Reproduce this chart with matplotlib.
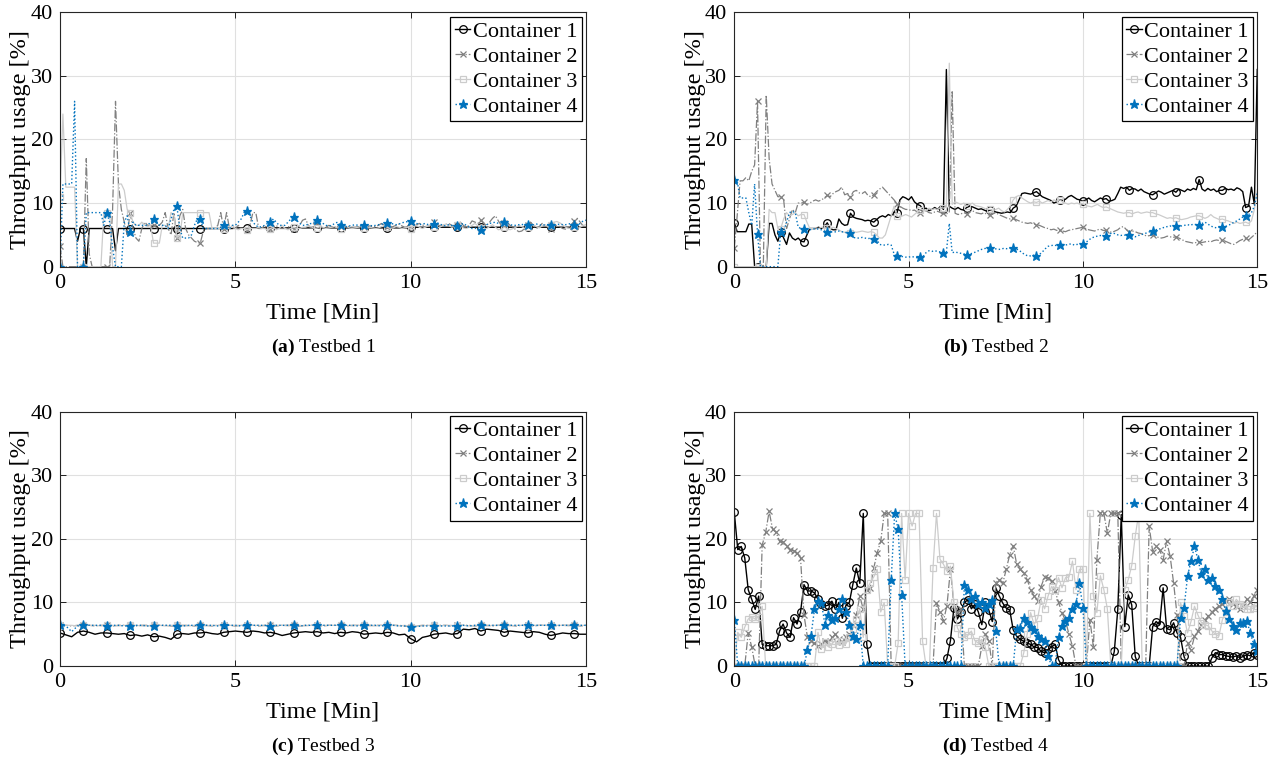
import numpy as np
import matplotlib
matplotlib.use('Agg')
from matplotlib import pyplot as plt

plt.rcParams['font.family'] = 'Liberation Serif'
plt.rcParams['mathtext.fontset'] = 'custom'
plt.rcParams['mathtext.rm'] = 'Liberation Serif'
plt.rcParams['mathtext.bf'] = 'Liberation Serif:bold'

names = ['Container 1', 'Container 2', 'Container 3', 'Container 4']
captions = [('a', 'Testbed 1'), ('b', 'Testbed 2'), ('c', 'Testbed 3'), ('d', 'Testbed 4')]

# testbed 1 and 2: one value every 5 s (12 per minute, one row per minute)
tb1_c1 = [
    6.0, 6.0, 6.0, 6.0, 6.0, 6.0, 4.0, 6.0, 6.0, 0.0, 6.0, 6.0,
    6.0, 6.0, 6.0, 6.0, 6.0, 6.0, 6.0, 2.5, 6.0, 6.0, 6.0, 6.0,
    6.0, 6.0, 6.0, 6.0, 6.0, 6.0, 6.0, 6.0, 6.0, 6.0, 6.0, 6.0,
    6.0, 6.0, 6.0, 6.0, 6.0, 6.0, 6.0, 6.0, 6.0, 6.0, 6.0, 6.0,
    6.0, 6.0, 6.0, 6.0, 6.0, 6.0, 6.0, 6.0, 6.0, 6.0, 6.0, 6.0,
    6.1, 6.1, 6.1, 6.1, 6.1, 6.1, 6.1, 6.1, 6.1, 6.1, 6.1, 6.1,
    6.1, 6.1, 6.1, 6.1, 6.1, 6.1, 6.1, 6.1, 6.1, 6.1, 6.1, 6.1,
    6.1, 6.1, 6.1, 6.1, 6.1, 6.1, 6.1, 6.1, 6.1, 6.1, 6.1, 6.1,
    6.1, 6.1, 6.1, 6.1, 6.1, 6.1, 6.1, 6.1, 6.1, 6.1, 6.1, 6.1,
    6.1, 6.1, 6.1, 6.1, 6.1, 6.1, 6.1, 6.1, 6.1, 6.1, 6.1, 6.1,
    6.2, 6.2, 6.2, 6.2, 6.2, 6.2, 6.2, 6.2, 6.2, 6.2, 6.2, 6.2,
    6.2, 6.2, 6.2, 6.2, 6.2, 6.2, 6.2, 6.2, 6.2, 6.2, 6.2, 6.2,
    6.2, 6.2, 6.2, 6.2, 6.2, 6.2, 6.2, 6.2, 6.2, 6.2, 6.2, 6.2,
    6.2, 6.2, 6.2, 6.2, 6.2, 6.2, 6.2, 6.2, 6.2, 6.2, 6.2, 6.2,
    6.2, 6.2, 6.2, 6.2, 6.2, 6.2, 6.2, 6.2, 6.2, 6.2, 6.2, 6.2,
    6.2]
tb1_c2 = [
    3.2, 0.0, 0.0, 0.0, 0.0, 0.0, 0.0, 0.0, 0.0, 17.0, 2.0, 0.0,
    0.0, 0.0, 0.0, 0.0, 0.0, 0.0, 9.0, 26.0, 13.0, 9.0, 7.0, 5.0,
    8.5, 6.0, 4.5, 4.0, 6.0, 7.0, 6.5, 6.5, 6.5, 6.5, 6.5, 7.0,
    8.5, 6.0, 5.0, 8.5, 4.5, 8.0, 9.0, 6.0, 5.0, 4.5, 4.0, 3.8,
    3.7, 5.5, 6.0, 6.0, 6.0, 6.0, 6.5, 8.5, 6.0, 8.5, 6.0, 6.0,
    6.0, 6.5, 6.0, 6.0, 5.8, 6.5, 8.5, 8.5, 6.0, 6.0, 6.5, 6.0,
    6.0, 6.3, 6.5, 6.0, 6.0, 6.0, 6.2, 6.5, 6.0, 6.0, 6.5, 7.3,
    7.5, 6.5, 6.0, 7.0, 6.8, 6.5, 6.0, 6.2, 6.5, 6.3, 6.2, 6.2,
    6.2, 6.3, 6.4, 6.3, 6.2, 6.2, 6.3, 6.3, 6.2, 6.3, 6.4, 6.3,
    6.3, 6.5, 6.8, 6.5, 6.3, 6.2, 6.3, 6.5, 6.7, 6.4, 6.2, 6.3,
    6.2, 6.3, 6.6, 6.8, 6.6, 6.3, 6.4, 6.6, 7.0, 6.7, 6.4, 6.5,
    6.6, 6.8, 6.5, 6.3, 6.6, 7.0, 6.5, 6.2, 6.5, 7.2, 7.0, 6.8,
    7.3, 6.8, 6.5, 7.0, 7.6, 8.0, 7.2, 6.5, 6.8, 7.0, 6.5, 6.2,
    5.8, 5.5, 5.6, 6.0, 6.6, 7.0, 6.5, 6.0, 6.3, 6.8, 6.5, 6.2,
    6.0, 6.3, 6.5, 6.3, 6.0, 5.9, 6.2, 6.6, 7.2, 7.6, 7.0, 6.4,
    6.5]
tb1_c3 = [
    11.0, 24.0, 12.5, 12.5, 12.5, 12.5, 0.0, 0.0, 0.0, 0.0, 0.0, 0.0,
    0.0, 0.0, 0.0, 8.5, 8.5, 8.5, 0.0, 0.0, 13.0, 13.0, 12.0, 9.0,
    8.5, 7.0, 6.5, 6.5, 7.0, 6.5, 6.3, 6.5, 3.7, 3.7, 3.7, 6.5,
    6.5, 6.0, 8.5, 8.0, 4.5, 4.5, 8.5, 8.5, 8.5, 8.5, 8.5, 8.5,
    8.5, 8.5, 8.5, 8.5, 6.0, 6.0, 6.0, 6.0, 6.0, 6.0, 6.0, 6.5,
    6.0, 5.8, 6.0, 6.0, 5.8, 6.0, 6.0, 6.0, 6.2, 6.0, 6.0, 5.8,
    6.0, 6.2, 5.8, 6.0, 6.5, 6.0, 5.8, 6.0, 6.2, 6.0, 6.0, 6.2,
    6.2, 6.4, 6.3, 6.0, 6.1, 6.3, 6.2, 6.0, 6.1, 6.2, 6.3, 6.1,
    6.0, 6.2, 6.3, 6.1, 6.0, 6.1, 6.2, 6.3, 6.1, 6.0, 6.2, 6.1,
    6.0, 6.1, 6.3, 6.5, 6.2, 6.0, 6.1, 6.3, 6.2, 6.0, 6.1, 6.2,
    6.0, 6.3, 6.5, 6.2, 6.0, 6.2, 6.4, 6.6, 6.3, 6.1, 6.2, 6.5,
    6.7, 6.5, 6.2, 6.3, 6.6, 6.4, 6.1, 6.0, 6.2, 6.5, 6.8, 6.4,
    6.1, 5.9, 6.0, 6.3, 6.6, 6.2, 5.8, 5.9, 6.2, 6.0, 5.8, 6.0,
    6.2, 6.5, 6.3, 6.0, 6.2, 6.5, 6.6, 6.3, 6.1, 6.4, 6.6, 6.3,
    6.5, 7.0, 7.1, 6.9, 6.6, 6.2, 6.0, 6.1, 6.3, 6.0, 6.2, 6.5,
    6.6]
tb1_c4 = [
    0.0, 13.0, 13.0, 13.0, 13.0, 26.0, 0.0, 0.0, 0.0, 8.5, 8.5, 8.5,
    8.5, 8.5, 8.5, 6.5, 8.5, 7.0, 3.0, 0.0, 0.0, 0.0, 7.0, 8.0,
    5.5, 7.0, 6.5, 6.5, 6.5, 6.5, 6.5, 7.0, 7.5, 7.0, 6.5, 6.5,
    6.5, 6.0, 7.5, 9.0, 9.5, 6.0, 4.5, 4.5, 4.5, 5.0, 6.5, 7.5,
    7.5, 6.0, 6.0, 6.0, 6.0, 6.0, 6.0, 6.2, 6.5, 6.2, 6.0, 6.5,
    6.5, 7.0, 7.5, 8.5, 8.8, 8.0, 7.0, 6.5, 6.2, 6.3, 6.5, 6.8,
    7.0, 7.5, 7.0, 6.5, 6.5, 6.5, 7.0, 7.5, 7.8, 7.3, 6.8, 6.5,
    6.5, 6.7, 6.8, 7.0, 7.3, 7.2, 6.8, 6.5, 6.4, 6.5, 6.8, 7.0,
    6.5, 6.4, 6.3, 6.4, 6.5, 6.6, 6.5, 6.4, 6.5, 6.6, 6.5, 6.4,
    6.5, 6.6, 6.7, 6.6, 6.8, 6.9, 6.7, 6.6, 6.7, 6.9, 7.0, 7.1,
    7.2, 7.0, 6.8, 6.6, 6.7, 6.8, 6.6, 6.5, 6.7, 6.9, 6.7, 6.5,
    6.4, 6.6, 6.5, 6.4, 6.4, 6.6, 6.8, 6.5, 6.2, 6.0, 6.0, 6.2,
    5.8, 6.2, 6.6, 6.8, 6.9, 7.0, 6.8, 6.9, 7.0, 6.8, 6.6, 6.5,
    6.5, 6.6, 6.6, 6.7, 6.6, 6.5, 6.6, 6.7, 6.6, 6.5, 6.6, 6.6,
    6.6, 6.5, 6.6, 6.7, 6.6, 6.6, 6.7, 6.8, 6.6, 6.5, 6.8, 7.2,
    7.3]

tb2_c1 = [
    6.9, 5.5, 5.5, 5.5, 5.5, 6.7, 6.7, 0.0, 0.0, 0.0, 0.0, 0.0,
    6.8, 6.8, 5.0, 4.0, 5.5, 4.5, 3.5, 5.3, 4.5, 4.2, 4.5, 4.0,
    3.9, 5.0, 6.0, 6.0, 6.0, 6.2, 6.0, 6.3, 6.9, 6.0, 5.8, 5.8,
    7.5, 6.8, 6.5, 6.6, 8.4, 7.8, 7.6, 7.5, 7.4, 7.2, 7.3, 7.2,
    7.0, 7.4, 7.8, 8.0, 7.8, 8.2, 8.0, 8.5, 8.4, 10.5, 11.0, 10.8,
    10.5, 11.0, 10.2, 9.8, 9.6, 9.0, 9.2, 8.8, 9.0, 9.3, 9.0, 9.5,
    9.0, 31.0, 9.5, 9.2, 9.0, 9.3, 9.0, 8.9, 9.3, 9.5, 9.4, 9.2,
    9.0, 9.1, 8.9, 8.7, 8.9, 8.8, 8.6, 8.5, 8.4, 8.5, 8.6, 8.5,
    9.2, 9.5, 10.5, 11.5, 11.6, 11.5, 11.4, 11.6, 11.8, 11.4, 11.0, 10.8,
    10.6, 10.4, 10.0, 10.2, 10.5, 10.4, 10.6, 11.0, 11.2, 10.9, 10.6, 10.5,
    10.3, 10.5, 10.8, 10.4, 10.2, 10.5, 10.8, 10.6, 10.7, 10.3, 10.4, 10.6,
    11.5, 12.5, 12.3, 12.5, 12.0, 12.3, 12.2, 11.9, 12.2, 11.8, 11.6, 11.4,
    11.3, 11.6, 11.9, 11.7, 11.4, 11.6, 11.8, 12.0, 11.7, 12.2, 12.0, 11.8,
    12.2, 12.0, 12.3, 12.1, 13.7, 12.2, 11.9, 12.3, 12.0, 12.2, 11.8, 12.0,
    12.0, 12.3, 12.1, 12.2, 12.0, 12.4, 12.2, 11.8, 9.3, 9.5, 12.5, 9.8,
    31.0]
tb2_c2 = [
    3.0, 8.0, 13.5, 13.5, 14.0, 13.5, 15.0, 16.0, 26.0, 0.0, 0.0, 27.0,
    17.0, 13.0, 12.0, 11.0, 11.0, 10.5, 6.0, 7.5, 9.0, 8.5, 10.0, 10.0,
    10.1, 9.8, 10.0, 10.3, 10.5, 10.3, 10.5, 10.8, 11.2, 11.0, 11.5, 11.8,
    12.0, 12.5, 11.3, 11.5, 11.0, 11.8, 12.0, 11.6, 11.5, 11.8, 11.2, 11.0,
    11.3, 11.8, 12.2, 12.5, 12.0, 11.5, 11.0, 10.5, 9.9, 9.5, 9.2, 9.0,
    9.0, 8.8, 8.9, 8.6, 8.5, 8.7, 8.8, 8.5, 8.4, 8.6, 8.7, 8.5,
    8.4, 8.3, 8.5, 27.5, 8.4, 8.2, 8.3, 8.5, 8.3, 8.6, 8.8, 8.5,
    8.4, 8.3, 8.5, 8.2, 8.1, 8.3, 8.5, 8.2, 8.0, 7.8, 7.6, 7.5,
    7.6, 7.4, 7.2, 7.0, 6.9, 6.8, 6.9, 6.7, 6.6, 6.5, 6.3, 6.1,
    6.0, 5.8, 5.9, 5.7, 5.7, 5.6, 5.5, 5.7, 5.8, 5.9, 6.0, 6.1,
    6.2, 6.0, 5.8, 5.7, 5.6, 5.8, 5.9, 5.7, 5.7, 5.5, 5.4, 5.6,
    5.8, 6.2, 6.3, 5.8, 5.4, 5.6, 5.5, 5.3, 5.2, 5.0, 4.8, 4.9,
    5.0, 4.8, 4.6, 4.5, 4.6, 4.8, 4.7, 4.6, 4.7, 4.5, 4.3, 4.0,
    3.9, 3.8, 3.7, 3.8, 3.9, 3.8, 3.9, 4.0, 3.9, 4.1, 4.2, 4.1,
    4.2, 4.0, 3.8, 3.6, 3.5, 3.8, 4.1, 4.3, 4.5, 4.2, 4.6, 5.0,
    5.5]
tb2_c3 = [
    0.0, 0.0, 0.0, 0.0, 0.0, 0.0, 0.0, 0.0, 0.0, 0.0, 0.0, 0.0,
    9.0, 8.5, 8.5, 6.0, 6.0, 7.5, 8.5, 8.0, 8.2, 8.5, 8.0, 8.2,
    8.2, 7.0, 6.0, 6.0, 6.1, 6.0, 6.2, 6.0, 6.1, 6.0, 6.2, 6.0,
    5.8, 5.5, 5.4, 5.5, 5.3, 5.5, 5.4, 5.5, 5.6, 5.5, 5.4, 5.5,
    5.4, 5.0, 4.5, 4.5, 5.0, 6.5, 8.0, 9.5, 8.0, 7.8, 8.0, 8.2,
    8.0, 7.8, 8.2, 8.6, 8.9, 9.0, 8.8, 9.2, 9.0, 9.1, 9.0, 9.3,
    9.2, 9.5, 32.0, 9.8, 10.2, 10.0, 9.8, 10.0, 9.5, 9.8, 10.0, 9.6,
    9.5, 9.4, 9.2, 9.0, 9.0, 8.8, 9.0, 9.2, 8.8, 8.6, 9.0, 9.5,
    10.5, 11.0, 11.2, 10.8, 10.5, 10.2, 10.0, 10.2, 10.1, 10.3, 10.0, 10.2,
    10.4, 10.2, 10.5, 10.3, 10.5, 10.2, 10.0, 9.8, 10.0, 9.9, 10.0, 9.8,
    9.9, 9.6, 9.5, 9.4, 9.6, 9.8, 9.5, 9.3, 9.4, 9.2, 9.0, 8.8,
    8.6, 8.5, 8.4, 8.5, 8.5, 8.3, 8.5, 8.6, 8.4, 8.5, 8.6, 8.5,
    8.5, 8.3, 8.2, 8.0, 7.8, 7.6, 7.7, 7.6, 7.7, 7.5, 7.4, 7.5,
    7.6, 7.8, 7.9, 8.0, 8.0, 7.8, 7.6, 7.8, 8.2, 7.8, 7.6, 7.4,
    7.5, 7.3, 7.2, 7.0, 6.8, 7.0, 6.8, 6.9, 7.0, 6.8, 7.2, 9.0,
    12.0]
tb2_c4 = [
    13.6, 13.5, 10.8, 10.8, 10.8, 8.5, 6.5, 13.0, 5.2, 0.0, 0.0, 0.0,
    0.0, 0.0, 0.0, 0.0, 5.5, 5.5, 7.0, 8.5, 8.7, 8.5, 6.2, 6.0,
    6.0, 5.9, 5.8, 5.9, 6.0, 5.9, 5.8, 5.6, 5.4, 5.5, 5.4, 5.5,
    5.6, 5.5, 5.4, 5.3, 5.3, 4.6, 4.5, 4.5, 4.6, 4.5, 4.4, 4.5,
    4.4, 4.3, 3.5, 3.4, 3.4, 3.5, 3.4, 2.0, 1.6, 1.5, 1.6, 1.5,
    1.5, 1.6, 1.5, 1.4, 1.5, 1.6, 2.2, 2.5, 2.4, 2.5, 2.4, 2.3,
    2.2, 2.3, 6.8, 2.2, 2.3, 2.2, 2.1, 2.0, 1.9, 2.0, 2.1, 2.3,
    2.5, 2.7, 2.8, 3.0, 3.0, 2.9, 2.8, 2.7, 2.8, 2.9, 2.8, 2.9,
    2.9, 2.8, 2.6, 2.2, 1.9, 1.7, 1.7, 1.8, 1.7, 1.9, 2.3, 2.8,
    3.2, 3.3, 3.4, 3.3, 3.4, 3.5, 3.4, 3.5, 3.6, 3.4, 3.5, 3.5,
    3.5, 3.8, 4.2, 4.5, 4.7, 4.8, 4.9, 4.8, 4.9, 5.1, 5.3, 5.2,
    5.0, 4.9, 5.0, 4.9, 5.0, 4.8, 4.7, 4.9, 5.0, 5.2, 5.3, 5.5,
    5.6, 5.8, 5.9, 6.0, 6.2, 6.3, 6.4, 6.3, 6.4, 6.5, 6.4, 6.5,
    6.6, 6.5, 6.7, 6.6, 6.6, 6.8, 7.0, 6.7, 6.4, 6.2, 6.1, 6.2,
    6.2, 6.3, 6.5, 6.7, 7.0, 7.2, 7.5, 7.8, 8.0, 8.2, 8.5, 9.5,
    11.6]

# testbed 3: one value every 10 s
tb3_c1 = [
    5.2, 4.9, 4.6, 5.3, 5.5, 5.3,
    5.0, 5.2, 5.2, 5.1, 5.0, 5.1,
    4.8, 4.9, 4.7, 4.9, 4.6, 4.7,
    4.5, 4.2, 5.0, 5.1, 5.0, 5.2,
    5.2, 5.3, 5.1, 5.0, 5.3, 5.4,
    5.5, 5.4, 5.3, 5.5, 5.4, 5.2,
    5.3, 5.1, 4.8, 5.0, 5.2, 5.3,
    5.4, 5.3, 5.4, 5.2, 5.3, 5.1,
    5.3, 5.2, 5.4, 5.3, 5.0, 5.1,
    5.2, 5.1, 5.3, 5.2, 4.9, 5.0,
    4.3, 3.8, 4.5, 4.7, 5.0, 5.1,
    5.2, 5.0, 5.1, 5.8, 5.7, 5.9,
    5.5, 5.8, 5.7, 5.6, 5.3, 5.5,
    5.4, 5.3, 5.2, 5.4, 5.3, 5.0,
    4.8, 5.0, 5.2, 5.1, 5.1, 5.0,
    5.0]
tb3_c2 = [
    6.4, 6.4, 6.3, 6.4, 6.4, 6.4,
    6.3, 6.4, 6.4, 6.3, 6.4, 6.4,
    6.3, 6.3, 6.4, 6.4, 6.3, 6.4,
    6.4, 6.3, 6.3, 6.4, 6.4, 6.3,
    6.4, 6.4, 6.3, 6.4, 6.4, 6.4,
    6.3, 6.4, 6.4, 6.4, 6.3, 6.4,
    6.4, 6.3, 6.4, 6.4, 6.4, 6.3,
    6.4, 6.4, 6.4, 6.3, 6.4, 6.4,
    6.4, 6.3, 6.4, 6.4, 6.3, 6.4,
    6.4, 6.4, 6.3, 6.4, 6.4, 6.3,
    6.2, 6.3, 6.4, 6.4, 6.3, 6.4,
    6.4, 6.3, 6.4, 6.4, 6.4, 6.3,
    6.4, 6.4, 6.3, 6.4, 6.4, 6.4,
    6.3, 6.4, 6.4, 6.3, 6.4, 6.4,
    6.4, 6.3, 6.4, 6.4, 6.4, 6.3,
    6.4]
tb3_c3 = [
    6.3, 6.4, 6.4, 6.3, 6.4, 6.4,
    6.4, 6.3, 6.4, 6.4, 6.3, 6.4,
    6.4, 6.4, 6.3, 6.3, 6.4, 6.4,
    6.3, 6.4, 6.4, 6.3, 6.3, 6.4,
    6.4, 6.3, 6.4, 6.4, 6.3, 6.4,
    6.4, 6.4, 6.3, 6.4, 6.4, 6.3,
    6.4, 6.4, 6.4, 6.3, 6.4, 6.4,
    6.3, 6.4, 6.3, 6.4, 6.4, 6.4,
    6.4, 6.4, 6.3, 6.4, 6.4, 6.3,
    6.3, 6.4, 6.4, 6.4, 6.3, 6.4,
    6.2, 6.3, 6.3, 6.4, 6.4, 6.3,
    6.4, 6.4, 6.3, 6.4, 6.3, 6.4,
    6.4, 6.3, 6.4, 6.4, 6.4, 6.3,
    6.4, 6.4, 6.3, 6.4, 6.4, 6.4,
    6.3, 6.4, 6.4, 6.3, 6.4, 6.4,
    6.4]
tb3_c4 = [
    6.4, 6.3, 5.4, 6.3, 6.4, 6.4,
    6.4, 6.4, 6.3, 6.4, 6.4, 6.3,
    6.3, 6.4, 6.4, 6.3, 6.3, 6.4,
    6.4, 6.4, 6.3, 6.3, 6.4, 6.4,
    6.4, 6.4, 6.4, 6.3, 6.4, 6.4,
    6.4, 6.3, 6.4, 6.4, 6.4, 6.4,
    6.3, 6.4, 6.4, 6.4, 6.4, 6.3,
    6.4, 6.4, 6.5, 6.4, 6.4, 6.4,
    6.4, 6.4, 6.4, 6.3, 6.4, 6.4,
    6.4, 6.3, 6.4, 6.4, 6.3, 6.3,
    6.2, 6.2, 6.3, 6.3, 6.3, 6.3,
    6.3, 6.3, 6.3, 6.4, 6.3, 6.4,
    6.4, 6.4, 6.4, 6.4, 6.4, 6.4,
    6.4, 6.4, 6.4, 6.4, 6.4, 6.4,
    6.4, 6.4, 6.4, 6.4, 6.4, 6.4,
    6.4]

# testbed 4: one value every 6 s (10 per minute)
tb4_c1 = [
    24.2, 18.3, 18.8, 17.0, 12.0, 10.5, 8.9, 11.0, 3.4, 3.2,
    3.2, 3.2, 3.4, 5.5, 6.6, 5.2, 4.5, 7.6, 6.6, 8.5,
    12.8, 11.8, 11.8, 11.5, 10.5, 9.8, 9.4, 9.6, 10.2, 8.9,
    10.0, 7.5, 9.5, 10.0, 12.8, 15.4, 13.0, 24.0, 3.4, 0.0,
    0.0, 0.0, 0.0, 0.0, 0.0, 0.0, 0.0, 0.0, 0.0, 0.0,
    0.0, 0.0, 0.0, 0.0, 0.0, 0.0, 0.0, 0.0, 0.0, 0.0,
    0.0, 1.2, 4.0, 9.2, 7.4, 8.5, 10.0, 10.4, 9.0, 9.7,
    8.5, 6.5, 10.0, 8.8, 7.0, 12.3, 11.0, 9.9, 9.1, 8.8,
    5.7, 4.7, 4.2, 3.9, 3.6, 3.4, 3.0, 2.9, 2.3, 2.1,
    2.6, 3.0, 3.4, 1.0, 0.0, 0.0, 0.0, 0.0, 0.0, 0.0,
    0.0, 0.0, 0.0, 0.0, 0.0, 0.0, 0.0, 0.0, 0.0, 2.3,
    8.9, 23.8, 6.2, 11.2, 9.6, 1.5, 0.0, 0.0, 0.0, 0.0,
    6.2, 7.0, 6.5, 12.3, 5.9, 5.7, 6.8, 5.2, 4.5, 1.5,
    0.0, 0.0, 0.0, 0.0, 0.0, 0.0, 0.0, 1.3, 2.1, 1.8,
    1.8, 1.6, 1.5, 1.4, 1.6, 1.3, 1.5, 1.8, 1.6, 2.1,
    1.8]
tb4_c2 = [
    0.0, 0.0, 0.0, 0.0, 5.2, 3.0, 0.0, 0.0, 19.0, 21.0,
    24.3, 21.5, 21.0, 19.6, 19.5, 18.8, 18.3, 18.1, 17.8, 17.0,
    8.0, 4.5, 4.0, 3.6, 3.1, 3.5, 4.0, 3.8, 4.5, 5.0,
    4.2, 3.8, 4.5, 5.0, 6.5, 8.0, 11.0, 8.9, 12.0, 12.3,
    15.4, 17.8, 19.6, 24.0, 24.0, 0.0, 0.0, 0.0, 0.0, 0.0,
    0.0, 0.0, 0.0, 0.0, 0.0, 0.0, 0.0, 0.0, 9.9, 8.5,
    7.1, 9.5, 15.2, 9.5, 8.5, 9.0, 0.0, 0.0, 0.0, 0.0,
    0.0, 3.1, 5.0, 4.0, 0.0, 13.1, 13.6, 13.0, 15.2, 17.5,
    18.9, 16.0, 15.2, 14.6, 13.6, 12.0, 11.0, 10.2, 12.5, 14.0,
    13.9, 13.3, 11.8, 10.0, 8.4, 7.1, 5.0, 3.1, 0.0, 0.0,
    0.0, 0.0, 7.3, 3.0, 16.7, 24.1, 24.0, 20.9, 24.0, 24.0,
    24.0, 0.0, 0.0, 0.0, 0.0, 0.0, 0.0, 0.0, 0.0, 22.0,
    18.0, 18.8, 18.3, 16.7, 19.6, 17.3, 13.1, 8.0, 0.0, 0.0,
    3.6, 2.5, 4.7, 5.5, 6.5, 7.2, 7.9, 8.5, 9.0, 9.4,
    9.8, 10.2, 10.5, 9.8, 9.4, 9.0, 9.5, 10.5, 10.0, 11.0,
    12.0]
tb4_c3 = [
    0.0, 5.3, 4.5, 6.1, 7.4, 7.7, 7.4, 7.7, 9.4, 0.0,
    0.0, 0.0, 0.0, 0.0, 0.0, 0.0, 0.0, 0.0, 0.0, 0.0,
    0.0, 0.0, 0.0, 0.0, 5.3, 2.7, 3.7, 3.0, 3.5, 4.0,
    3.3, 4.0, 3.5, 4.5, 5.8, 7.4, 9.0, 4.5, 12.0, 13.1,
    14.0, 15.2, 8.5, 10.0, 0.0, 0.0, 0.0, 3.6, 24.0, 13.6,
    24.0, 22.0, 24.0, 24.0, 3.9, 0.0, 0.0, 15.4, 24.0, 16.8,
    16.0, 14.9, 15.7, 10.0, 6.0, 5.0, 4.5, 4.8, 5.5, 4.0,
    3.6, 4.2, 3.0, 0.0, 0.0, 0.0, 0.0, 0.0, 0.0, 0.0,
    0.0, 0.0, 0.0, 2.0, 5.0, 8.4, 6.5, 7.5, 10.4, 9.0,
    11.0, 12.5, 12.0, 13.9, 12.3, 13.9, 14.0, 16.5, 12.0, 15.2,
    15.2, 0.0, 24.0, 11.0, 8.4, 14.2, 12.0, 9.0, 0.0, 0.0,
    0.0, 0.0, 12.0, 13.6, 15.8, 20.4, 24.0, 0.0, 0.0, 0.0,
    0.0, 0.0, 0.0, 0.0, 0.0, 0.0, 0.0, 0.0, 10.0, 7.8,
    5.2, 7.0, 9.4, 8.0, 6.8, 6.5, 6.3, 5.5, 5.0, 4.7,
    7.3, 8.5, 10.0, 9.5, 10.5, 9.8, 9.4, 9.0, 8.9, 9.2,
    9.4]
tb4_c4 = [
    7.3, 0.0, 0.0, 0.0, 0.0, 0.0, 0.0, 0.0, 0.0, 0.0,
    0.0, 0.0, 0.0, 0.0, 0.0, 0.0, 0.0, 0.0, 0.0, 0.0,
    0.0, 2.5, 4.7, 8.9, 10.2, 9.9, 6.5, 8.0, 7.2, 7.5,
    9.0, 10.5, 8.5, 6.5, 4.7, 4.2, 6.5, 0.0, 0.0, 0.0,
    0.0, 0.0, 0.0, 0.0, 0.0, 13.5, 24.0, 21.5, 11.2, 0.0,
    0.0, 0.0, 0.0, 0.0, 0.0, 0.0, 0.0, 0.0, 0.0, 0.0,
    0.0, 0.0, 0.0, 0.0, 0.0, 0.0, 12.8, 12.0, 10.5, 11.0,
    9.7, 10.0, 9.1, 9.7, 10.4, 5.5, 0.0, 0.0, 0.0, 0.0,
    0.0, 5.8, 6.0, 7.6, 7.0, 6.2, 5.7, 4.7, 4.2, 3.9,
    1.6, 0.0, 0.0, 4.6, 6.3, 7.1, 7.6, 8.9, 9.7, 13.1,
    9.1, 0.0, 0.0, 0.0, 0.0, 0.0, 0.0, 0.0, 0.0, 0.0,
    0.0, 0.0, 0.0, 0.0, 0.0, 0.0, 0.0, 0.0, 0.0, 0.0,
    0.0, 0.0, 0.0, 0.0, 0.0, 0.0, 0.0, 0.0, 7.6, 9.1,
    14.1, 16.5, 18.8, 16.7, 14.4, 15.2, 13.6, 13.9, 12.6, 12.0,
    10.5, 8.6, 7.4, 6.3, 5.7, 6.8, 6.8, 7.1, 5.2, 3.4,
    2.3]

t_5s = np.arange(len(tb1_c1)) / 12.0
t_10s = np.arange(len(tb3_c1)) / 6.0
t_6s = np.arange(len(tb4_c1)) / 10.0

panels = [
    (t_5s, [tb1_c1, tb1_c2, tb1_c3, tb1_c4], 8),
    (t_5s, [tb2_c1, tb2_c2, tb2_c3, tb2_c4], 8),
    (t_10s, [tb3_c1, tb3_c2, tb3_c3, tb3_c4], 4),
    (t_6s, [tb4_c1, tb4_c2, tb4_c3, tb4_c4], 1),
]

styles = [
    dict(color='k', ls='-', lw=1.0, marker='o', mfc='none', ms=5.5),
    dict(color=(0.5, 0.5, 0.5), ls='-.', lw=0.9, marker='x', ms=5),
    dict(color=(0.8, 0.8, 0.8), ls='-', lw=0.9, marker='s', mfc='none', ms=5),
    dict(color=(0.0, 0.447, 0.741), ls=':', lw=1.0, marker='*', ms=6.5),
]

# axes boxes in figure fractions: left, bottom, width, height
boxes = [
    [0.0469, 0.6505, 0.4113, 0.3334],
    [0.5741, 0.6505, 0.4089, 0.3334],
    [0.0469, 0.1271, 0.4113, 0.3334],
    [0.5741, 0.1271, 0.4089, 0.3334],
]
caption_y = [0.5452, 0.5452, 0.0214, 0.0214]

fig = plt.figure(figsize=(12.79, 7.63), dpi=100)

for k, (t, series, every) in enumerate(panels):
    ax = fig.add_axes(boxes[k])
    for y, st, name in zip(series, styles, names):
        ax.plot(t, y, label=name, markevery=every, mew=0.9, **st)

    ax.set_xlim(0, 15)
    ax.set_ylim(0, 40)
    ax.set_xticks([0, 5, 10, 15])
    ax.set_yticks([0, 10, 20, 30, 40])
    ax.grid(True, color=(0.88, 0.88, 0.88), lw=0.8)
    ax.set_axisbelow(True)
    ax.tick_params(direction='in', length=4, width=0.6, top=True, right=True,
                   labelsize=16, pad=5)
    for sp in ax.spines.values():
        sp.set_linewidth(0.8)
        sp.set_color((0.15, 0.15, 0.15))

    ax.set_xlabel('Time [Min]', fontsize=17.5, va='center')
    ax.xaxis.set_label_coords(0.5, -46 / 254.4)
    ax.set_ylabel('Throughput usage [%]', fontsize=17.5, va='center')
    ax.yaxis.set_label_coords(-39 / 525.0, 0.5)

    leg = ax.legend(loc='upper right', fontsize=16, handlelength=0.7,
                    handletextpad=0.1, borderpad=0.2, labelspacing=0.2,
                    borderaxespad=0.2, fancybox=False, edgecolor='k',
                    framealpha=1, numpoints=1, markerscale=1.0)
    leg.get_frame().set_linewidth(0.9)

    letter, title = captions[k]
    cx = boxes[k][0] + boxes[k][2] / 2
    fig.text(cx, caption_y[k], r'$\mathbf{(' + letter + r')}$ ' + title,
             ha='center', va='center', fontsize=14)

fig.savefig('out.png', dpi=100)
